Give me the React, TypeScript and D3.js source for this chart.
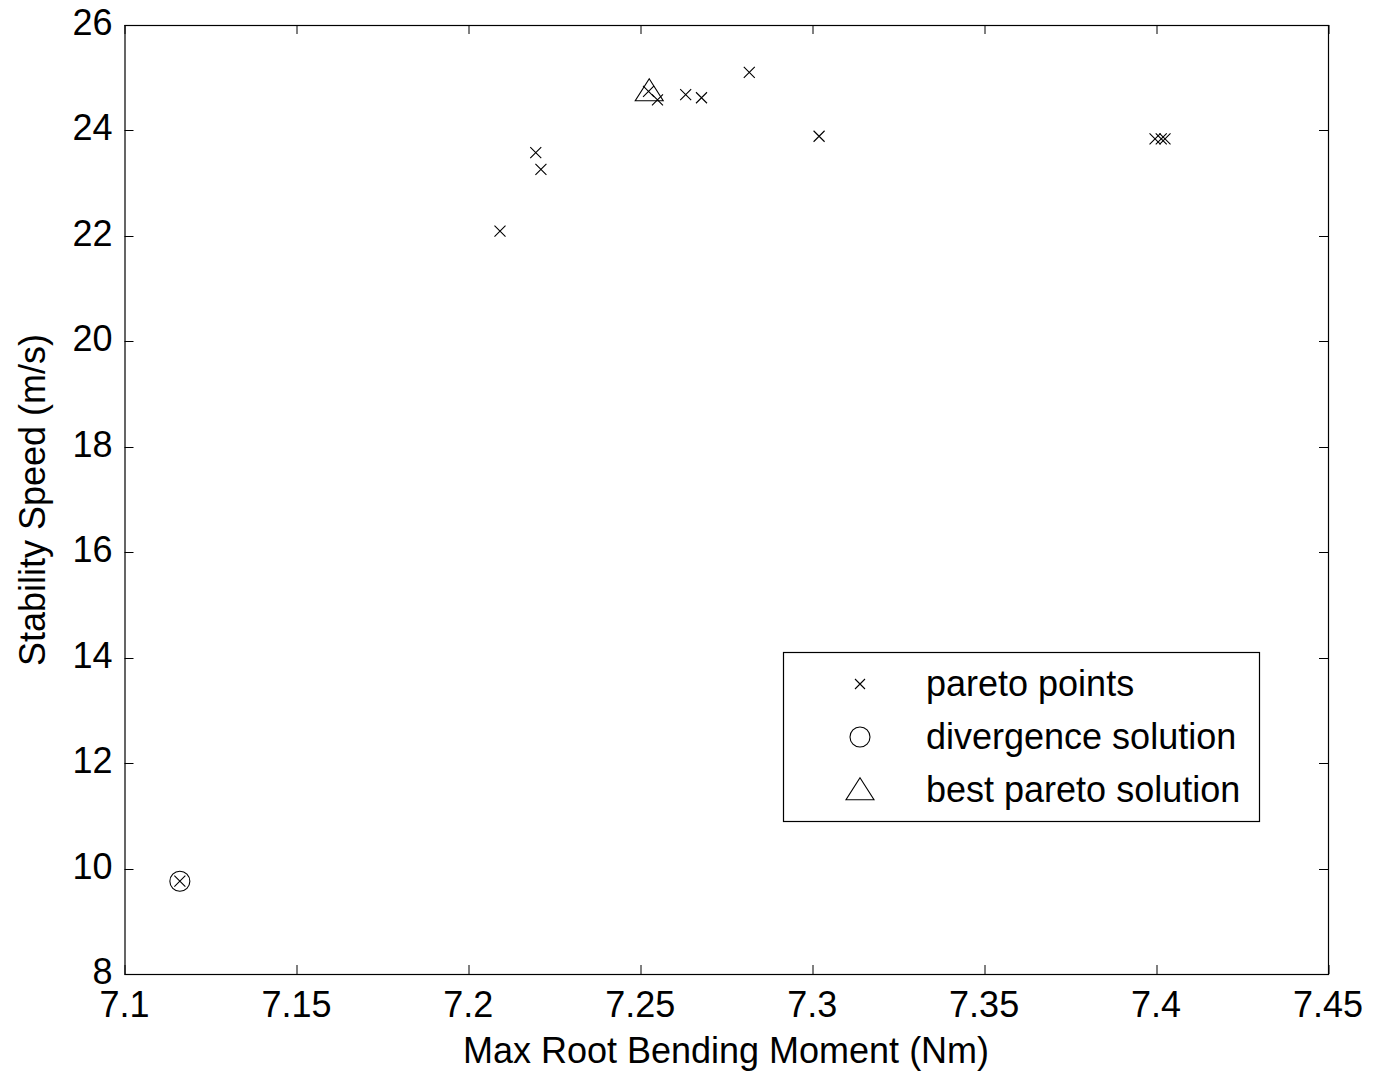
import React, { useEffect, useRef } from 'react';
import * as d3 from 'd3';

// data
const paretoX = [7.2092, 7.2196, 7.2211, 7.2524, 7.2550, 7.2632, 7.2678, 7.2817, 7.3020, 7.3997, 7.4015, 7.4026, 7.1161];
const paretoY = [22.09, 23.58, 23.26, 24.74, 24.58, 24.68, 24.62, 25.10, 23.89, 23.84, 23.84, 23.84, 9.76];
const divergenceX = [7.1161];
const divergenceY = [9.76];
const bestX = [7.2526];
const bestY = [24.73];
const xTicks = [7.1, 7.15, 7.2, 7.25, 7.3, 7.35, 7.4, 7.45];
const yTicks = [8, 10, 12, 14, 16, 18, 20, 22, 24, 26];
const legendLabels = ['pareto points', 'divergence solution', 'best pareto solution'];

const W = 1373, H = 1071;
const margin = { top: 25, right: 45, bottom: 97, left: 124.5 };
const FONT = '"Liberation Sans", Arial, sans-serif';
const FS = 36;

export default function App() {
    const svgRef = useRef<SVGSVGElement>(null);

    useEffect(() => {
        const svg = d3.select(svgRef.current);
        svg.selectAll('*').remove();

        const width = W - margin.left - margin.right;
        const height = H - margin.top - margin.bottom;

        const x = d3.scaleLinear().domain([7.1, 7.45]).range([0, width]);
        const y = d3.scaleLinear().domain([8, 26]).range([height, 0]);

        svg.append('rect').attr('width', W).attr('height', H).attr('fill', 'white');

        const g = svg.append('g')
            .attr('transform', `translate(${margin.left},${margin.top})`);

        const tick = 9;
        // ticks (inward, all four sides)
        const tg = g.append('g').attr('stroke', 'black').attr('stroke-width', 1);
        xTicks.forEach(t => {
            const px = Math.round(x(t)) + 0.5;
            tg.append('line').attr('x1', px).attr('x2', px).attr('y1', height).attr('y2', height - tick);
            tg.append('line').attr('x1', px).attr('x2', px).attr('y1', 0).attr('y2', tick);
        });
        yTicks.forEach(t => {
            const py = Math.round(y(t)) + 0.5;
            tg.append('line').attr('x1', 0).attr('x2', tick).attr('y1', py).attr('y2', py);
            tg.append('line').attr('x1', width).attr('x2', width - tick).attr('y1', py).attr('y2', py);
        });

        g.append('rect')
            .attr('x', 0.5).attr('y', 0.5)
            .attr('width', width).attr('height', height)
            .attr('fill', 'none').attr('stroke', 'black').attr('stroke-width', 1.2);

        // tick labels
        g.selectAll('.xl').data(xTicks).enter().append('text')
            .attr('x', d => x(d)).attr('y', height + 43)
            .attr('text-anchor', 'middle')
            .attr('font-family', FONT).attr('font-size', FS)
            .text(d => d3.format('')(d));
        g.selectAll('.yl').data(yTicks).enter().append('text')
            .attr('x', -12).attr('y', d => y(d) + 10)
            .attr('text-anchor', 'end')
            .attr('font-family', FONT).attr('font-size', FS)
            .text(d => d);

        // axis titles
        svg.append('text')
            .attr('x', 726).attr('y', 1063)
            .attr('text-anchor', 'middle')
            .attr('font-family', FONT).attr('font-size', FS)
            .text('Max Root Bending Moment (Nm)');
        svg.append('text')
            .attr('transform', `translate(45,500) rotate(-90)`)
            .attr('text-anchor', 'middle')
            .attr('font-family', FONT).attr('font-size', FS)
            .text('Stability Speed (m/s)');

        const cross = (sel, cx, cy, s) => {
            sel.append('path')
                .attr('d', `M${cx - s},${cy - s}L${cx + s},${cy + s}M${cx - s},${cy + s}L${cx + s},${cy - s}`)
                .attr('stroke', 'black').attr('stroke-width', 1.1).attr('fill', 'none');
        };
        const tri = (sel, cx, cy, w, h) => {
            sel.append('path')
                .attr('d', `M${cx},${cy - h * 0.6}L${cx + w / 2},${cy + h * 0.4}L${cx - w / 2},${cy + h * 0.4}Z`)
                .attr('stroke', 'black').attr('stroke-width', 1.1).attr('fill', 'none');
        };

        // pareto points
        paretoX.forEach((v, i) => cross(g, x(v), y(paretoY[i]), 5.5));
        // divergence solution
        divergenceX.forEach((v, i) => {
            g.append('circle').attr('cx', x(v)).attr('cy', y(divergenceY[i])).attr('r', 10)
                .attr('fill', 'none').attr('stroke', 'black').attr('stroke-width', 1.1);
        });
        // best pareto solution
        bestX.forEach((v, i) => tri(g, x(v), y(bestY[i]), 28, 22));

        // legend
        const lg = svg.append('g');
        lg.append('rect').attr('x', 783.5).attr('y', 652.5).attr('width', 476).attr('height', 169)
            .attr('fill', 'white').attr('stroke', 'black').attr('stroke-width', 1.2);
        const rows = [684, 737, 790];
        legendLabels.forEach((lab, i) => {
            lg.append('text').attr('x', 926).attr('y', rows[i] + 12)
                .attr('font-family', FONT).attr('font-size', FS).text(lab);
        });
        cross(lg, 860, rows[0], 5);
        lg.append('circle').attr('cx', 860).attr('cy', rows[1]).attr('r', 10)
            .attr('fill', 'none').attr('stroke', 'black').attr('stroke-width', 1.1);
        tri(lg, 860, rows[2] + 1, 28, 22);
    }, []);

    return (
        <svg ref={svgRef} width={W} height={H}
            style={{ position: 'absolute', left: 0, top: 0, display: 'block' }} />
    );
}
